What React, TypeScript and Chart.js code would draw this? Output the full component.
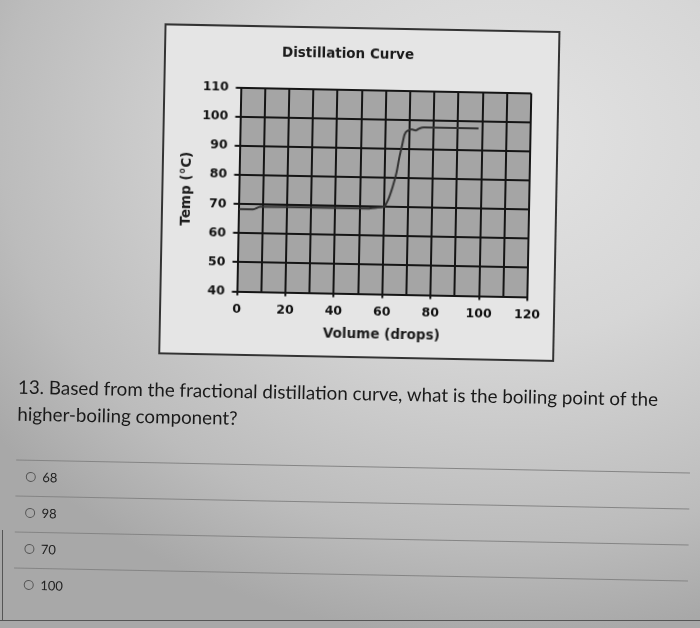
import React, { useEffect, useRef } from "react";
import { Chart, registerables } from "chart.js";

Chart.register(...registerables);

// ---- data ----
const volumeDrops = [0, 6, 9, 20, 30, 40, 53, 57, 60, 61.5, 63.5, 65, 66, 67, 68, 69.5, 71, 72.5, 74, 76, 80, 98.5];
const tempC = [68.3, 68.3, 69.2, 69.3, 69.3, 69.3, 69.3, 69.7, 70, 72, 77, 82, 87, 91, 95, 96.5, 96.8, 96.5, 97.2, 97.6, 97.6, 97.6];
const xMin = 0;
const xMax = 120;
const xGridStep = 10;
const xLabelStep = 20;
const yMin = 40;
const yMax = 110;
const yStep = 10;
const chartTitle = "Distillation Curve";
const xAxisTitle = "Volume (drops)";
const yAxisTitle = "Temp (°C)";
const questionLines = [
  "13. Based from the fractional distillation curve, what is the boiling point of the",
  "higher-boiling component?",
];
const answerOptions = ["68", "98", "70", "100"];

const CHART_FONT = "'DejaVu Sans', Verdana, sans-serif";
const BOX_W = 396;
const BOX_H = 331;

const plotBackground = {
  id: "plotBackground",
  beforeDraw(chart: any) {
    const { ctx, chartArea } = chart;
    if (!chartArea) return;
    ctx.save();
    ctx.fillStyle = "#a5a5a5";
    ctx.fillRect(chartArea.left, chartArea.top, chartArea.right - chartArea.left, chartArea.bottom - chartArea.top);
    ctx.restore();
  },
};

function DistillationChart() {
  const canvasRef = useRef<HTMLCanvasElement | null>(null);
  useEffect(() => {
    const canvas = canvasRef.current;
    if (!canvas) return;
    const points = volumeDrops.map((x, i) => ({ x, y: tempC[i] }));
    const chart = new Chart(canvas, {
      type: "line",
      data: {
        datasets: [
          {
            data: points,
            borderColor: "#333333",
            borderWidth: 2,
            pointRadius: 0,
            fill: false,
            cubicInterpolationMode: "monotone",
          },
        ],
      },
      options: {
        animation: false,
        responsive: false,
        devicePixelRatio: 1,
        layout: { padding: { left: 0, right: 28, top: 0, bottom: 0 } },
        plugins: {
          legend: { display: false },
          tooltip: { enabled: false },
          title: {
            display: true,
            text: chartTitle,
            color: "#1a1a1a",
            font: { family: CHART_FONT, size: 13.5, weight: "bold" },
            padding: { top: 19.4, bottom: 27.4 },
          },
        },
        scales: {
          x: {
            type: "linear",
            min: xMin,
            max: xMax,
            afterFit: (axis: any) => {
              axis.height = 64.5;
            },
            ticks: {
              stepSize: xGridStep,
              autoSkip: false,
              maxRotation: 0,
              padding: 7,
              color: "#111",
              font: { family: CHART_FONT, size: 12.5, weight: "bold" },
              callback: (v: any) => (Number(v) % xLabelStep === 0 ? String(v) : ""),
            },
            grid: {
              color: "#151515",
              lineWidth: 2,
              tickLength: 4,
              tickColor: (ctx: any) =>
                ctx.tick && Number(ctx.tick.value) % xLabelStep === 0 ? "#151515" : "rgba(0,0,0,0)",
            },
            border: { display: true, color: "#151515", width: 2 },
            title: {
              display: true,
              text: xAxisTitle,
              color: "#1a1a1a",
              font: { family: CHART_FONT, size: 13.5, weight: "bold" },
              padding: { top: 0, bottom: 15.8 },
            },
          },
          y: {
            type: "linear",
            min: yMin,
            max: yMax,
            afterFit: (axis: any) => {
              axis.width = 77.5;
            },
            ticks: {
              stepSize: yStep,
              padding: 7,
              color: "#111",
              font: { family: CHART_FONT, size: 12.5, weight: "bold" },
            },
            grid: { color: "#151515", lineWidth: 2, tickLength: 5, tickColor: "#151515" },
            border: { display: true, color: "#151515", width: 2 },
            title: {
              display: true,
              text: yAxisTitle,
              color: "#1a1a1a",
              font: { family: CHART_FONT, size: 13.5, weight: "bold" },
              padding: { top: 17.8, bottom: 0 },
            },
          },
        },
      },
      plugins: [plotBackground],
    } as any);
    return () => chart.destroy();
  }, []);
  return <canvas ref={canvasRef} width={BOX_W} height={BOX_H} style={{ display: "block" }} />;
}

const separatorYs = [466.4, 502.9, 538.5, 574.5];
const optionYs = [483.2, 519.2, 555.2, 591.2];

export default function App() {
  return (
    <div
      style={{
        position: "fixed",
        left: 0,
        top: 0,
        width: 700,
        height: 628,
        overflow: "hidden",
        background:
          "radial-gradient(ellipse 90% 80% at 72% 22%, #e3e3e3 0%, #d6d6d6 40%, #bcbcbc 80%, #a8a8a8 100%)",
      }}
    >
      <div
        style={{
          position: "absolute",
          left: 0,
          top: 0,
          width: 700,
          height: 628,
          transform: "rotate(1.1deg)",
          transformOrigin: "350px 314px",
        }}
      >
        <div
          style={{
            position: "absolute",
            left: 158.7,
            top: 27.3,
            width: BOX_W,
            height: BOX_H,
            background: "#e5e5e5",
          }}
        >
          <DistillationChart />
          <div
            style={{
              position: "absolute",
              left: 0,
              top: 0,
              width: BOX_W,
              height: BOX_H,
              boxSizing: "border-box",
              border: "2px solid #333",
              pointerEvents: "none",
            }}
          />
        </div>

        {questionLines.map((line, i) => (
          <div
            key={i}
            style={{
              position: "absolute",
              left: 19.4,
              top: 378.5 + i * 27,
              height: 27,
              lineHeight: "27px",
              fontFamily: "Lato, sans-serif",
              fontSize: 18.8,
              color: "#1a1a1a",
              whiteSpace: "nowrap",
            }}
          >
            {line}
          </div>
        ))}

        {separatorYs.map((y, i) => (
          <div
            key={i}
            style={{
              position: "absolute",
              left: 18.8,
              top: y - 0.75,
              width: 674,
              height: 0,
              borderTop: "1.5px solid #858585",
            }}
          />
        ))}

        {answerOptions.map((opt, i) => (
          <div
            key={i}
            style={{
              position: "absolute",
              left: 28.5,
              top: optionYs[i] - 8,
              height: 16,
              display: "flex",
              alignItems: "center",
              fontFamily: "Lato, sans-serif",
              fontSize: 13,
              color: "#222",
            }}
          >
            <span
              style={{
                display: "inline-block",
                width: 10,
                height: 10,
                boxSizing: "border-box",
                border: "1.5px solid #555",
                borderRadius: "50%",
                marginRight: 7,
              }}
            />
            <span style={{ lineHeight: "16px" }}>{opt}</span>
          </div>
        ))}
      </div>

      <div style={{ position: "absolute", left: 2, top: 530, width: 0, height: 90, borderLeft: "1.5px solid #555" }} />
      <div style={{ position: "absolute", left: 0, top: 620, width: 700, height: 0, borderTop: "1.5px solid #555" }} />
    </div>
  );
}
